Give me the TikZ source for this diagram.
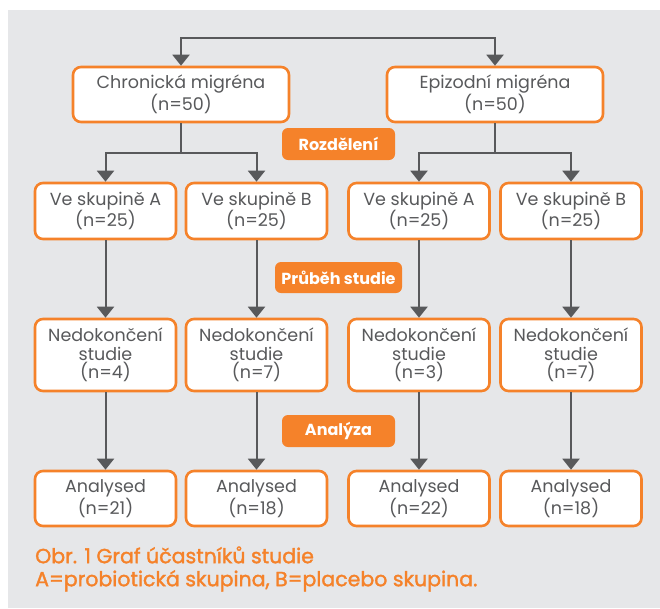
\documentclass[tikz,border=0pt]{standalone}
\usepackage{fontspec}
\setmainfont{Poppins}
\newfontfamily\capfont[FakeBold=1.6]{Poppins}
\usetikzlibrary{arrows.meta,calc}
\definecolor{bggray}{HTML}{E6E7E9}
\definecolor{orng}{HTML}{F5822A}
\definecolor{txtgray}{HTML}{58595B}
\definecolor{lngray}{HTML}{58595B}
\begin{document}
\begin{tikzpicture}[x=1pt,y=-1pt,
  box/.style={draw=orng,line width=2.6pt,fill=white,rounded corners=8pt,
    text=txtgray,align=center,inner sep=0pt,
    font=\fontsize{17.5}{18.5}\selectfont},
  lbl/.style={fill=orng,rounded corners=6pt,text=white,inner sep=0pt,
    font=\fontsize{16}{18}\selectfont\bfseries},
  conn/.style={draw=lngray,line width=2pt},
  arr/.style={conn,-{Triangle[width=17pt,length=11pt]}}]
\useasboundingbox (0,0) rectangle (660,608);
\fill[bggray] (8,10) rectangle (660,608);
% row 1
\node[box,minimum width=216pt,minimum height=55pt] (chr) at (181,94.5) {Chronická migréna\\(n=50)};
\node[box,minimum width=216pt,minimum height=55pt] (epi) at (495,94.5) {Epizodní migréna\\(n=50)};
% row 2
\foreach \n/\x/\t in {a1/105.5/Ve skupině A,b1/256.5/Ve skupině B,a2/419/Ve skupině A,b2/571/Ve skupině B}{
  \node[box,minimum width=141pt,minimum height=56pt] (\n) at (\x,211) {\t\\(n=25)};
}
% row 3
\node[box,minimum width=141pt,minimum height=72pt] (na1) at (105.5,355) {Nedokončení\\studie\\(n=4)};
\node[box,minimum width=141pt,minimum height=72pt] (nb1) at (256.5,355) {Nedokončení\\studie\\(n=7)};
\node[box,minimum width=141pt,minimum height=72pt] (na2) at (419,355) {Nedokončení\\studie\\(n=3)};
\node[box,minimum width=141pt,minimum height=72pt] (nb2) at (571,355) {Nedokončení\\studie\\(n=7)};
% row 4
\node[box,minimum width=141pt,minimum height=55pt] (ya1) at (105.5,498.5) {Analysed\\(n=21)};
\node[box,minimum width=141pt,minimum height=55pt] (yb1) at (256.5,498.5) {Analysed\\(n=18)};
\node[box,minimum width=141pt,minimum height=55pt] (ya2) at (419,498.5) {Analysed\\(n=22)};
\node[box,minimum width=141pt,minimum height=55pt] (yb2) at (571,498.5) {Analysed\\(n=18)};
% labels
\node[lbl,minimum width=113pt,minimum height=32pt] (l1) at (338.5,144) {Rozdělení};
\node[lbl,minimum width=127pt,minimum height=31pt] (l2) at (338.5,277.5) {Průběh studie};
\node[lbl,minimum width=113pt,minimum height=32pt] (l3) at (338.5,431) {Analýza};
% connectors
\coordinate (top) at (338,38);
\draw[arr] (top) -| (chr);
\draw[arr] (top) -| (epi);
\coordinate (s1) at (181,153);
\coordinate (s2) at (495,153);
\draw[conn] (chr.south) -- (s1);
\draw[conn] (epi.south) -- (s2);
\draw[arr] (s1) -| (a1);
\draw[arr] (s1) -| (b1);
\draw[arr] (s2) -| (a2);
\draw[arr] (s2) -| (b2);
\foreach \u/\v in {a1/na1,b1/nb1,a2/na2,b2/nb2,na1/ya1,nb1/yb1,na2/ya2,nb2/yb2}{
  \draw[arr] (\u) -- (\v);
}
% caption
\node[anchor=west,text=orng,align=left,inner sep=0pt,
  font=\capfont\fontsize{20.5}{23}\selectfont] (cap) at (35,569)
  {Obr. 1 Graf účastníků studie\\A=probiotická skupina, B=placebo skupina.};
\end{tikzpicture}
\end{document}
